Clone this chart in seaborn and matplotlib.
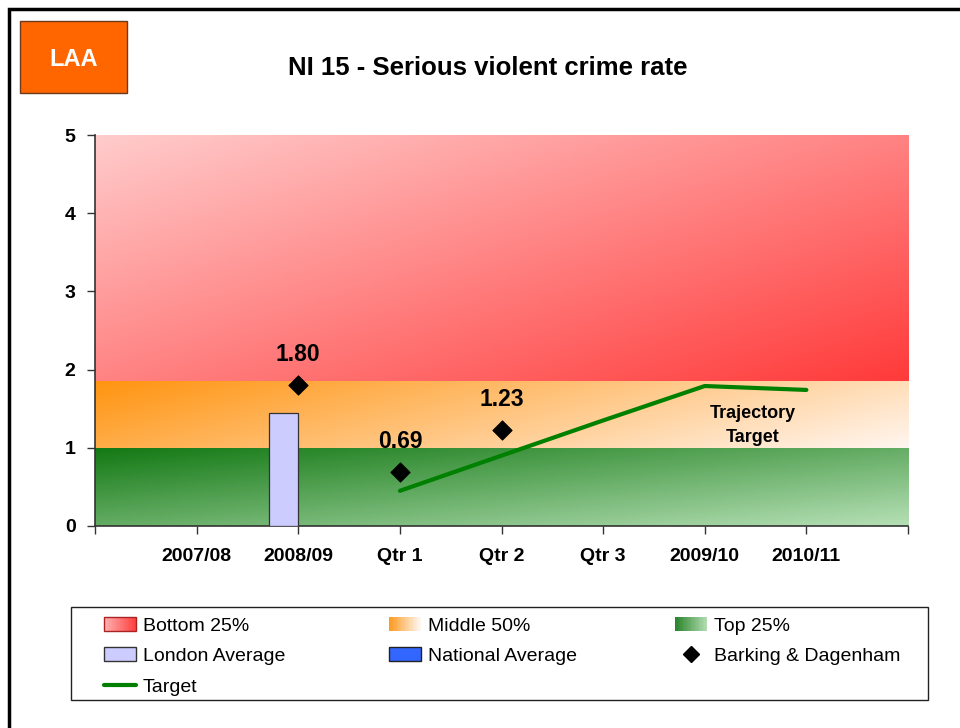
import numpy as np
import matplotlib
matplotlib.use("Agg")
import matplotlib.pyplot as plt
import seaborn as sns
from matplotlib.patches import Rectangle
from matplotlib.lines import Line2D
from matplotlib.legend_handler import HandlerBase
from matplotlib.colors import to_rgb

# ---------------- data ----------------
categories = ["2007/08", "2008/09", "Qtr 1", "Qtr 2", "Qtr 3", "2009/10", "2010/11"]
band_edges = [0.0, 1.0, 1.85, 5.0]          # Top 25% | Middle 50% | Bottom 25%
london_cats = ["2008/09"]
london_vals = [1.45]
borough_cats = ["2008/09", "Qtr 1", "Qtr 2"]
borough_vals = [1.80, 0.69, 1.23]
target_cats = ["Qtr 1", "Qtr 2", "Qtr 3", "2009/10", "2010/11"]
target_vals = [0.45, 0.90, 1.35, 1.79, 1.74]
y_ticks = [0, 1, 2, 3, 4, 5]
title = "NI 15 - Serious violent crime rate"

# ---------------- style ----------------
sns.set_theme(style="white")
plt.rcParams['font.family'] = ['Liberation Sans', 'DejaVu Sans']
plt.rcParams.update({"text.color": "black", "xtick.color": "black",
                     "ytick.color": "black", "axes.labelcolor": "black"})

W, H = 960, 728
fig = plt.figure(figsize=(W / 100, H / 100), dpi=100)
fig.patch.set_facecolor("white")

ax = fig.add_axes([95 / W, 1 - 526 / H, 813 / W, 391 / H])
pos = {c: i + 1 for i, c in enumerate(categories)}
n_slots = len(categories) + 1


def grad_img(c0, c1, wx, wy, n=200):
    xs = np.linspace(0, 1, n)
    X, Y = np.meshgrid(xs, xs)
    t = (wx * X + wy * Y) / (wx + wy)
    a = np.array(to_rgb(c0))
    b = np.array(to_rgb(c1))
    return a + (b - a) * t[..., None]


band_styles = [
    ("#127812", "#b6e0b6", 1.0, 1.0),   # top 25% (green)
    ("#ff9410", "#fff6f0", 3.0, 1.0),   # middle 50% (orange)
    ("#ffcccc", "#ff3a3a", 1.0, 1.0),   # bottom 25% (red)
]
for (lo, hi), (c0, c1, wx, wy) in zip(zip(band_edges[:-1], band_edges[1:]), band_styles):
    ax.imshow(grad_img(c0, c1, wx, wy), extent=[0, n_slots, lo, hi],
              aspect="auto", origin="upper", interpolation="bilinear", zorder=0)

# London average bar (clustered position, left of the category tick)
bw = 0.29
ax.bar([pos[c] - bw / 2 for c in london_cats], london_vals, width=bw,
       color="#ccccff", edgecolor="#333333", linewidth=0.9, zorder=3)

# Target line
sns.lineplot(x=[pos[c] for c in target_cats], y=target_vals, color="#008000",
             linewidth=3, ax=ax, zorder=4, legend=False)

# Borough points
sns.scatterplot(x=[pos[c] for c in borough_cats], y=borough_vals, marker="D",
                s=95, color="black", edgecolor="black", ax=ax, zorder=5, legend=False)
for c, v in zip(borough_cats, borough_vals):
    ax.annotate(f"{v:.2f}", (pos[c], v), xytext=(0, 22), textcoords="offset points",
                ha="center", va="center", fontsize=16.5, fontweight="bold", color="black",
                zorder=6)

ax.text(6.47, (526 - 413) / 78.2, "Trajectory", ha="center", va="center",
        fontsize=13, fontweight="bold", zorder=6)
ax.text(6.47, (526 - 437) / 78.2, "Target", ha="center", va="center",
        fontsize=13, fontweight="bold", zorder=6)

ax.set_xlim(0, n_slots)
ax.set_ylim(y_ticks[0], y_ticks[-1])
ax.set_xticks(range(0, n_slots + 1))
ax.set_xticklabels([""] + categories + [""])
ax.set_yticks(y_ticks)
ax.set_yticklabels([str(t) for t in y_ticks])
ax.tick_params(axis="x", direction="out", length=6, width=1, color="#333333",
               pad=10, labelsize=14, bottom=True, labelcolor="black")
ax.tick_params(axis="y", direction="out", length=6, width=1, color="#333333",
               pad=8, labelsize=14, left=True, labelcolor="black")
for lab in ax.get_xticklabels() + ax.get_yticklabels():
    lab.set_fontweight("bold")
for s in ["top", "right"]:
    ax.spines[s].set_visible(False)
for s in ["left", "bottom"]:
    ax.spines[s].set_color("#333333")
    ax.spines[s].set_linewidth(1.2)
ax.set_xlabel("")
ax.set_ylabel("")

# Title and LAA badge
fig.text(488 / W, 1 - 68 / H, title, ha="center", va="center",
         fontsize=18.5, fontweight="bold", color="black")
badge = Rectangle((20 / W, 1 - 93 / H), 107 / W, 72 / H, transform=fig.transFigure,
                  facecolor="#ff6600", edgecolor="#6b3a1a", linewidth=1)
fig.patches.append(badge)
fig.text(74 / W, 1 - 59 / H, "LAA", ha="center", va="center", color="white",
         fontsize=17, fontweight="bold")

# Outer frame
frame = Rectangle((9 / W, -0.05), 1.2, 1 - 9 / H + 0.05, transform=fig.transFigure,
                  fill=False, edgecolor="black", linewidth=2.5)
fig.patches.append(frame)


# ---------------- legend ----------------
class GradHandler(HandlerBase):
    def __init__(self, c0, c1, edge=None):
        super().__init__()
        self.c0 = np.array(to_rgb(c0))
        self.c1 = np.array(to_rgb(c1))
        self.edge = edge

    def create_artists(self, legend, orig_handle, xdescent, ydescent, width,
                       height, fontsize, trans):
        arts = []
        n = 24
        for i in range(n):
            t = i / (n - 1)
            col = self.c0 + (self.c1 - self.c0) * t
            arts.append(Rectangle((-xdescent + width * i / n, -ydescent),
                                  width / n * 1.08, height, facecolor=col,
                                  edgecolor="none", transform=trans))
        if self.edge:
            arts.append(Rectangle((-xdescent, -ydescent), width, height, fill=False,
                                  edgecolor=self.edge, linewidth=1, transform=trans))
        return arts


h_bottom = Rectangle((0, 0), 1, 1)
h_middle = Rectangle((0, 0), 1, 1)
h_top = Rectangle((0, 0), 1, 1)
h_london = Rectangle((0, 0), 1, 1, facecolor="#ccccff", edgecolor="#333333", linewidth=1)
h_nat = Rectangle((0, 0), 1, 1, facecolor="#3366ff", edgecolor="#222222", linewidth=1)
h_bd = Line2D([], [], marker="D", color="black", linestyle="none", markersize=8)
h_tgt = Line2D([], [], color="#008000", linewidth=3)

hmap = {
    h_bottom: GradHandler("#ffb0b0", "#ff4040", edge="#aa2222"),
    h_middle: GradHandler("#ff9a20", "#fff8f2"),
    h_top: GradHandler("#2a842a", "#b0dcb0"),
}
columns = [
    (104, [h_bottom, h_london, h_tgt], ["Bottom 25%", "London Average", "Target"]),
    (389, [h_middle, h_nat], ["Middle 50%", "National Average"]),
    (675, [h_top, h_bd], ["Top 25%", "Barking & Dagenham"]),
]
for x0, hs, ls in columns:
    lg = fig.legend(hs, ls, handler_map=hmap, ncol=1, loc="upper left",
                    bbox_to_anchor=(x0 / W, 1 - 617 / H), borderaxespad=0,
                    borderpad=0, frameon=False, fontsize=14, handlelength=1.65,
                    handletextpad=0.36, labelspacing=0.66)
    for t in lg.get_texts():
        t.set_color("black")

legend_frame = Rectangle((71 / W, 1 - 700 / H), 857 / W, 93 / H,
                         transform=fig.transFigure, fill=False,
                         edgecolor="#222222", linewidth=1.0)
fig.patches.append(legend_frame)

fig.savefig("out.png", dpi=100)
